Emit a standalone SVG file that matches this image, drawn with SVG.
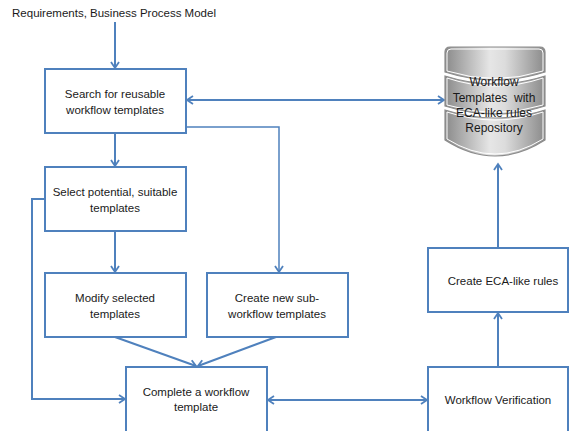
<svg xmlns="http://www.w3.org/2000/svg" width="569" height="431" viewBox="0 0 569 431">
<defs>
<marker id="ah" markerUnits="userSpaceOnUse" markerWidth="12" markerHeight="12" refX="7" refY="5" orient="auto-start-reverse" viewBox="0 0 12 10">
<path d="M1,1 L7,5 L1,9" fill="none" stroke="#4f81bd" stroke-width="1.8"/>
</marker>
<linearGradient id="dbg" x1="0" y1="0" x2="1" y2="0">
<stop offset="0" stop-color="#8a8a8a"/>
<stop offset="0.45" stop-color="#e6e6e6"/>
<stop offset="0.6" stop-color="#dcdcdc"/>
<stop offset="1" stop-color="#8a8a8a"/>
</linearGradient>
<style>
.box{fill:#fff;stroke:#4f81bd;stroke-width:2}
.ln{fill:none;stroke:#4f81bd;stroke-width:2}
.thin{fill:none;stroke:#4f81bd;stroke-width:1.5}
.t{font-family:"Liberation Sans",Arial,sans-serif;font-size:11.5px;fill:#1a1a1a;text-anchor:middle}
.db{fill:url(#dbg);stroke:#8c8c8c;stroke-width:1.2}
.dbi{fill:none;stroke:#fff;stroke-width:1}
</style>
</defs>
<text class="t" x="114" y="17" style="font-size:11.5px">Requirements, Business Process Model</text>
<g id="connectors">
<path class="ln" d="M115,22 V68" marker-end="url(#ah)"/>
<path class="ln" d="M115,133 V166" marker-end="url(#ah)"/>
<path class="ln" d="M115,231 V272" marker-end="url(#ah)"/>
<path class="ln" d="M187,100 H444" marker-start="url(#ah)" marker-end="url(#ah)"/>
<path class="thin" d="M186,127 H279 V272" marker-end="url(#ah)"/>
<path class="ln" d="M45,199 H32 V399 H125" marker-end="url(#ah)"/>
<path class="ln" d="M115,337 L196,366" marker-end="url(#ah)"/>
<path class="ln" d="M276,337 L198,366" marker-end="url(#ah)"/>
<path class="ln" d="M268,400 H427" marker-start="url(#ah)" marker-end="url(#ah)"/>
<path class="ln" d="M498,367 V313" marker-end="url(#ah)"/>
<path class="ln" d="M498,248 V164" marker-end="url(#ah)"/>
</g>
<g id="search">
<rect class="box" x="45" y="69" width="141" height="64"/>
<text class="t" x="115" y="98">Search for reusable</text>
<text class="t" x="115" y="114">workflow templates</text>
</g>
<g id="select">
<rect class="box" x="45" y="167" width="141" height="64"/>
<text class="t" x="115" y="196">Select potential, suitable</text>
<text class="t" x="115" y="212">templates</text>
</g>
<g id="modify">
<rect class="box" x="45" y="273" width="141" height="64"/>
<text class="t" x="115" y="302">Modify selected</text>
<text class="t" x="115" y="318">templates</text>
</g>
<g id="createsub">
<rect class="box" x="207" y="273" width="141" height="64"/>
<text class="t" x="277" y="302">Create new sub-</text>
<text class="t" x="277" y="318">workflow templates</text>
</g>
<g id="complete">
<rect class="box" x="126" y="367" width="141" height="66"/>
<text class="t" x="196" y="396">Complete a workflow</text>
<text class="t" x="196" y="411">template</text>
</g>
<g id="verification">
<rect class="box" x="428" y="367" width="140" height="66"/>
<text class="t" x="498" y="404">Workflow Verification</text>
</g>
<g id="eca">
<rect class="box" x="428" y="248" width="140" height="64"/>
<text class="t" x="503" y="285">Create ECA-like rules</text>
</g>
<g id="repository">
<path class="db" d="M445,110 Q495,126 545,110 L545,140 Q495,172 445,140 Z"/>
<path class="dbi" d="M447,112 Q495,128 543,112 L543,139 Q495,169 447,139 Z"/>
<path class="db" d="M445,76 Q495,92 545,76 L545,106 Q495,122 445,106 Z"/>
<path class="dbi" d="M447,78 Q495,94 543,78 L543,105 Q495,120 447,105 Z"/>
<path class="db" d="M445,72 L445,52 Q445,47 450,47 L540,47 Q545,47 545,52 L545,72 Q495,88 445,72 Z"/>
<path class="dbi" d="M447,71 L447,53 Q447,49 451,49 L539,49 Q543,49 543,53 L543,71 Q495,86 447,71 Z"/>
<text class="t" x="494" y="86" style="font-size:12px">Workflow</text>
<text class="t" x="494" y="102" style="font-size:12px;white-space:pre">Templates  with</text>
<text class="t" x="494" y="117" style="font-size:12px">ECA-like rules</text>
<text class="t" x="494" y="132" style="font-size:12px">Repository</text>
</g>
</svg>
